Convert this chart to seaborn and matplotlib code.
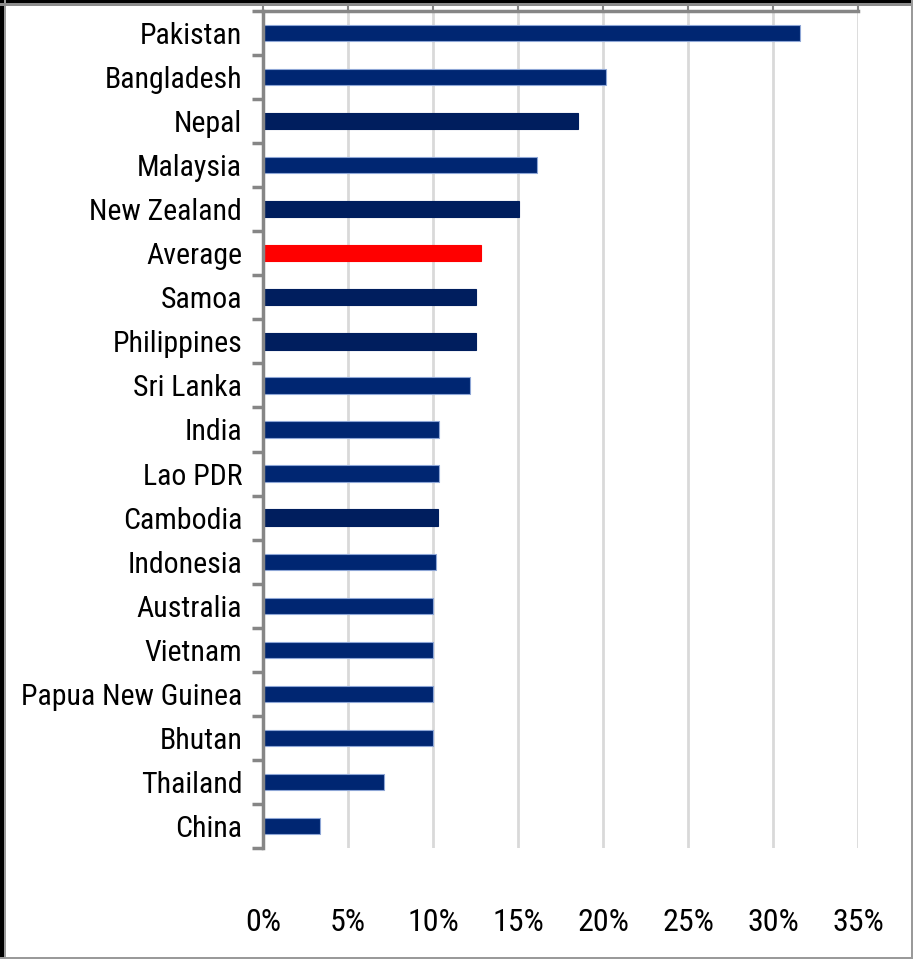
import matplotlib
matplotlib.use("Agg")
import matplotlib.pyplot as plt
from matplotlib.patches import Rectangle
from matplotlib.ticker import FixedLocator, FuncFormatter
from matplotlib import font_manager
import seaborn as sns
import pandas as pd

countries = ["Pakistan", "Bangladesh", "Nepal", "Malaysia", "New Zealand", "Average",
             "Samoa", "Philippines", "Sri Lanka", "India", "Lao PDR", "Cambodia",
             "Indonesia", "Australia", "Vietnam", "Papua New Guinea", "Bhutan",
             "Thailand", "China"]
values = [31.6, 20.2, 18.5, 16.1, 15.05, 12.8, 12.5, 12.5, 12.2, 10.35, 10.35, 10.3,
          10.2, 10.0, 10.0, 10.0, 10.0, 7.1, 3.35]
groups = ["a", "a", "b", "a", "b", "avg", "b", "b", "a", "a", "a", "b",
          "a", "a", "a", "a", "a", "a", "a"]
x_ticks = [0, 5, 10, 15, 20, 25, 30, 35]

group_colors = {"a": "#002672", "b": "#001E5E", "avg": "#FF0000"}
group_edges = {"a": "#8EA6D6", "b": "#001E5E", "avg": "#FF0000"}

df = pd.DataFrame({"country": countries, "value": values})

sns.set_theme(style="white")
names = {f.name for f in font_manager.fontManager.ttflist}
narrow = [n for n in ["Liberation Sans Narrow", "Roboto Condensed", "Open Sans Condensed",
                      "DejaVu Sans Condensed"] if n in names]
plt.rcParams["font.family"] = narrow + ["Roboto", "DejaVu Sans"]
has_narrow = len(narrow) > 0
fs = 21.5 if has_narrow else 19

fig = plt.figure(figsize=(9.13, 9.59), dpi=100)
W, H = 913, 959
ax = fig.add_axes([263 / W, 1 - 848 / H, (858 - 263) / W, (848 - 11) / H])

palette = [group_colors[g] for g in groups]
sns.barplot(data=df, y="country", x="value", hue="country", palette=palette,
            legend=False, orient="h", width=0.37, ax=ax, saturation=1)

for p, g in zip(ax.patches, groups):
    p.set_edgecolor(group_edges[g])
    p.set_linewidth(0.8)

ax.set_xlim(0, 35)
ax.set_ylim(len(countries) - 0.5, -0.5)
ax.set_xlabel("")
ax.set_ylabel("")

ax.xaxis.set_major_locator(FixedLocator(x_ticks))
ax.xaxis.set_major_formatter(FuncFormatter(lambda v, pos: f"{int(v)}%"))
ax.grid(axis="x", color="#D9D9D9", linewidth=2)
ax.set_axisbelow(True)

ax.tick_params(axis="x", top=True, bottom=False, labeltop=False, labelbottom=True,
               direction="out", length=9, width=1.5, color="#868686", pad=34,
               labelsize=fs + 1.5)
ax.set_yticks(range(len(countries)))
ax.set_yticks([i - 0.5 for i in range(len(countries) + 1)], minor=True)
ax.tick_params(axis="y", which="major", length=0, pad=15, labelsize=fs)
ax.tick_params(axis="y", which="minor", left=True, length=8, width=2.5, color="#868686")
for lab in ax.get_xticklabels() + ax.get_yticklabels():
    lab.set_color("black")

for s in ["right", "bottom"]:
    ax.spines[s].set_visible(False)
for s in ["left", "top"]:
    ax.spines[s].set_color("#868686")
    ax.spines[s].set_linewidth(2.5)

# figure frame
fig.patches.append(Rectangle((0, 0), 4 / W, 1, transform=fig.transFigure,
                             facecolor="black", edgecolor="none", zorder=10))
fig.patches.append(Rectangle((0, 1 - 3 / H), 1, 3 / H, transform=fig.transFigure,
                             facecolor="black", edgecolor="none", zorder=10))
fig.patches.append(Rectangle((4 / W, 0), 2 / W, 1, transform=fig.transFigure,
                             facecolor="#9A9A9A", edgecolor="none", zorder=10))
fig.patches.append(Rectangle((0, 1 - 6 / H), 1, 3 / H, transform=fig.transFigure,
                             facecolor="#8C8C8C", edgecolor="none", zorder=10))
fig.patches.append(Rectangle((1 - 2 / W, 0), 2 / W, 1, transform=fig.transFigure,
                             facecolor="#9A9A9A", edgecolor="none", zorder=10))
fig.patches.append(Rectangle((0, 0), 1, 2 / H, transform=fig.transFigure,
                             facecolor="#9A9A9A", edgecolor="none", zorder=10))

fig.savefig("out.png", dpi=100)
